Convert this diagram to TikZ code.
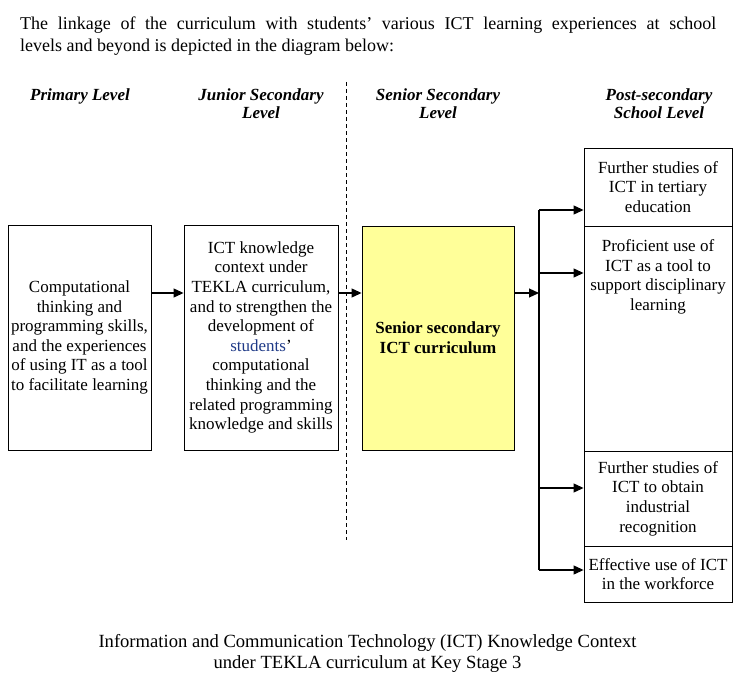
\documentclass[tikz,border=0pt]{standalone}
\usepackage{fontspec}
\setmainfont{Liberation Serif}
\usetikzlibrary{arrows.meta}
\definecolor{ylw}{RGB}{255,255,153}
\definecolor{stblue}{RGB}{31,58,135}
\begin{document}
\begin{tikzpicture}[x=1pt,y=-1pt,
  box/.style={draw=black, line width=0.9pt, rectangle, inner sep=0pt, align=center,
    font=\fontsize{17}{19.6}\selectfont},
  boxtext/.style={inner sep=0pt, align=center, font=\fontsize{17}{19.6}\selectfont},
  hdr/.style={inner sep=0pt, align=center, anchor=north,
    font=\fontsize{17}{18}\selectfont\bfseries\itshape},
  arr/.style={line width=1.1pt, -{Triangle[length=10pt,width=9pt]}},
  link/.style={line width=1.1pt},
  divider/.style={line width=0.8pt, dash pattern=on 4pt off 3pt}]
\path[use as bounding box] (0,0) rectangle (746,690);

% intro paragraph
\node[inner sep=0pt, anchor=north west, text width=696pt, align=justify,
  font=\fontsize{18}{21.5}\selectfont] (intro) at (20,16.7)
  {The linkage of the curriculum with students’ various ICT learning experiences at school\linebreak levels and beyond is depicted in the diagram below:};

% headers
\node[hdr] (h1) at (80,88.5) {Primary Level};
\node[hdr] (h2) at (261,88.5) {Junior Secondary\\Level};
\node[hdr] (h3) at (438,88.5) {Senior Secondary\\Level};
\node[hdr] (h4) at (659,88.5) {Post-secondary\\School Level};

% divider
\coordinate (dtop) at (346,82);
\coordinate (dbot) at (346,540);
\draw[divider] (dtop) -- (dbot);

% main boxes
\node[box, minimum width=143pt, minimum height=225pt] (prim) at (79.5,337.5)
  {Computational\\thinking and\\programming skills,\\and the experiences\\of using IT as a tool\\to facilitate learning};
\node[box, minimum width=154pt, minimum height=225pt] (jun) at (261,337.5)
  {ICT knowledge\\context under\\TEKLA curriculum,\\and to strengthen the\\development of\\\textcolor{stblue}{students}’\\computational\\thinking and the\\related programming\\knowledge and skills};
\node[box, fill=ylw, minimum width=152pt, minimum height=224pt, font=\fontsize{17}{19.6}\selectfont\bfseries] (sen) at (438,338)
  {Senior secondary\\ICT curriculum};

% post-secondary boxes
\node[box, minimum width=148pt, minimum height=78pt] (pa) at (658,187)
  {Further studies of\\ICT in tertiary\\education};
\node[box, minimum width=148pt, minimum height=225pt] (pb) at (658,338.5) {};
\node[boxtext, anchor=north] (pbt) at (658,239.4)
  {Proficient use of\\ICT as a tool to\\support disciplinary\\learning};
\node[box, minimum width=148pt, minimum height=95pt] (pc) at (658,498.5)
  {Further studies of\\ICT to obtain\\industrial\\recognition};
\node[box, minimum width=148pt, minimum height=56pt] (pd) at (658,574)
  {Effective use of ICT\\in the workforce};

% connectors
\coordinate (ay) at (0,293);
\coordinate (bus) at (539,293);
\draw[arr] (prim.east |- ay) -- (jun.west |- ay);
\draw[arr] (jun.east |- ay) -- (sen.west |- ay);
\draw[arr] (sen.east |- ay) -- (bus);

\coordinate (ya) at (0,210);
\coordinate (yb) at (0,273);
\coordinate (yc) at (0,488);
\coordinate (yd) at (0,570);
\draw[link] (bus |- ya) -- (bus |- yd);
\draw[arr] (bus |- ya) -- (pa.west |- ya);
\draw[arr] (bus |- yb) -- (pb.west |- yb);
\draw[arr] (bus |- yc) -- (pc.west |- yc);
\draw[arr] (bus |- yd) -- (pd.west |- yd);

% caption
\node[inner sep=0pt, anchor=north, align=center, font=\fontsize{18.6}{21}\selectfont] (cap) at (367.5,634.5)
  {Information and Communication Technology (ICT) Knowledge Context\\under TEKLA curriculum at Key Stage 3};
\end{tikzpicture}
\end{document}
